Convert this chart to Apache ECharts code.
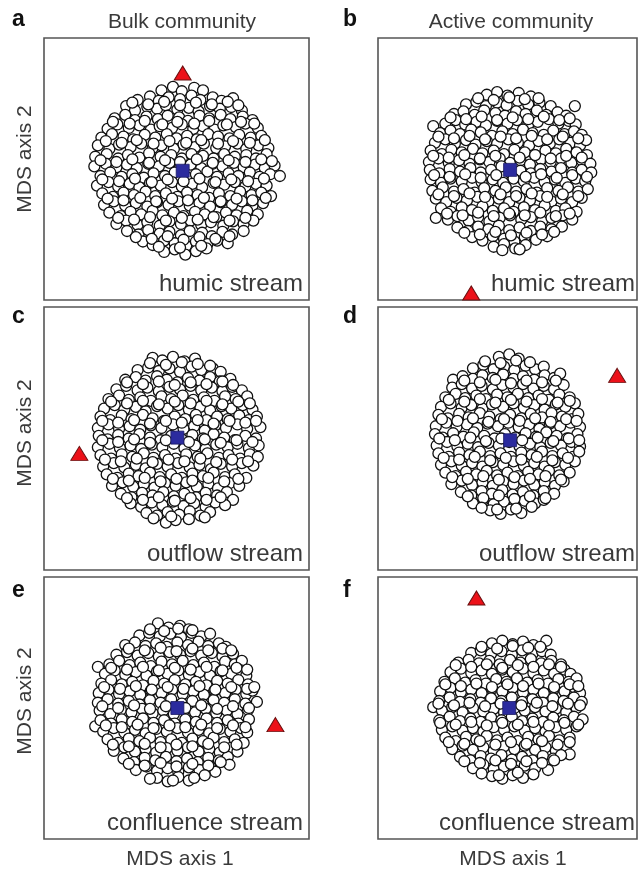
<!DOCTYPE html>
<html>
<head>
<meta charset="utf-8">
<script src="https://cdn.jsdelivr.net/npm/echarts@6/dist/echarts.min.js"></script>
<style>
  html, body { margin: 0; padding: 0; background: #fff; }
  #chart { width: 638px; height: 870px; }
</style>
</head>
<body>
<div id="chart"></div>
<script>
// Null-model community scores (MDS axis 1, axis 2), one array per panel
const bulkHumic = [
  [-17,90],[-4,94],[6,89],[20,93],[30,90],
  [-44,79],[-30,83],[-20,78],[-9,82],[4,80],[17,84],[27,79],[41,82],[51,78],[64,81],
  [-57,72],[-47,67],[-33,71],[-22,69],[-12,73],[1,68],[14,70],[25,66],[38,72],[49,69],[62,71],[74,67],
  [-70,58],[-58,62],[-47,56],[-34,60],[-21,57],[-10,61],[3,59],[13,55],[26,61],[37,58],[50,62],[61,57],[75,60],[86,56],
  [-78,46],[-67,51],[-54,47],[-42,50],[-29,45],[-19,49],[-5,47],[6,51],[19,46],[30,49],[43,45],[53,50],[67,48],[78,52],[92,47],
  [-85,36],[-73,40],[-60,37],[-49,34],[-36,39],[-24,36],[-11,40],[0,35],[12,38],[23,34],[36,40],[47,37],[60,35],[71,39],[84,36],[96,38],
  [-89,27],[-76,23],[-65,28],[-52,25],[-40,29],[-27,24],[-17,27],[-3,23],[8,28],[21,25],[31,29],[45,24],[55,26],[69,29],[79,23],[93,27],[104,24],
  [-92,14],[-79,17],[-66,12],[-55,16],[-42,13],[-31,18],[-18,14],[-6,16],[6,12],[17,17],[30,15],[42,12],[54,17],[66,14],[79,16],[90,12],[102,17],
  [-93,3],[-80,6],[-68,2],[-56,5],[-45,1],[-32,6],[-20,3],[-8,7],[4,2],[16,5],[28,1],[41,6],[52,3],[65,7],[76,2],[89,5],[100,1],[111,4],
  [-86,-8],[-75,-4],[-62,-9],[-50,-6],[-37,-10],[-26,-5],[-13,-8],[-2,-4],[11,-9],[22,-6],[35,-3],[46,-9],[59,-5],[70,-8],[83,-4],[94,-9],[106,-6],[117,-8],
  [-90,-19],[-77,-15],[-66,-20],[-53,-17],[-42,-21],[-30,-16],[-18,-19],[-5,-15],[6,-20],[18,-17],[29,-21],[42,-16],[54,-18],[66,-15],[78,-20],[90,-17],[102,-19],
  [-84,-28],[-72,-32],[-60,-27],[-48,-30],[-35,-26],[-24,-31],[-12,-28],[1,-32],[12,-27],[24,-30],[37,-33],[48,-28],[61,-31],[72,-26],[85,-30],[96,-27],[107,-31],
  [-82,-41],[-71,-37],[-58,-42],[-46,-39],[-33,-43],[-22,-38],[-9,-41],[2,-37],[15,-42],[26,-39],[38,-43],[50,-38],[63,-41],[74,-37],[86,-42],[98,-39],
  [-76,-50],[-63,-54],[-52,-49],[-40,-52],[-27,-48],[-16,-53],[-3,-50],[8,-54],[21,-49],[32,-52],[45,-55],[56,-50],[68,-53],[80,-48],[92,-52],
  [-68,-63],[-57,-59],[-44,-64],[-33,-61],[-19,-65],[-8,-60],[5,-63],[16,-59],[28,-64],[39,-61],[53,-65],[64,-60],[76,-63],[87,-59],
  [-56,-71],[-43,-75],[-32,-70],[-19,-74],[-8,-72],[5,-76],[15,-71],[29,-73],[40,-77],[52,-72],[63,-75],[76,-71],
  [-38,-83],[-27,-87],[-14,-82],[-2,-85],[11,-88],[22,-83],[35,-86],[46,-82],[58,-85],
  [-14,-95],[-2,-92],[10,-98],[22,-94],[34,-91],
  [-50,76],[-32,74],[-14,77],[4,73],[22,76],[40,74],[58,77],[70,73],
  [-72,54],[-53,52],[-36,55],[-16,51],[1,54],[20,52],[37,55],[57,51],[73,54],[88,52],
  [-80,32],[-62,30],[-45,33],[-26,29],[-8,32],[11,30],[28,33],[47,29],[64,32],[83,30],[100,33],
  [-86,10],[-68,8],[-50,11],[-31,7],[-13,10],[4,8],[23,11],[41,7],[59,10],[78,8],[96,11],[108,9],
  [-84,-12],[-65,-14],[-47,-11],[-28,-15],[-10,-12],[8,-14],[26,-11],[44,-15],[62,-12],[81,-14],[99,-11],
  [-78,-34],[-60,-36],[-41,-33],[-23,-37],[-5,-34],[13,-36],[31,-33],[50,-37],[68,-34],[86,-36],[101,-33],
  [-66,-56],[-48,-58],[-30,-55],[-12,-59],[6,-56],[24,-58],[42,-55],[60,-59],[78,-56],
  [-46,-78],[-28,-80],[-10,-77],[8,-81],[26,-78],[44,-80],[60,-77],
  [-20,-89],[4,-90],[28,-88]
];
const activeHumic = [
  [-24,85],[-12,88],[0,84],[13,87],[27,83],
  [-48,74],[-36,77],[-25,72],[-12,76],[-1,73],[12,78],[24,74],[37,76],[50,72],[78,72],
  [-62,63],[-51,66],[-38,62],[-27,67],[-14,64],[-3,61],[10,66],[21,63],[34,67],[45,62],[58,65],[68,61],
  [-72,52],[-60,56],[-49,51],[-36,54],[-25,50],[-12,55],[0,52],[11,56],[24,51],[35,54],[48,57],[59,52],[71,55],[79,51],
  [-86,49],[-78,41],[-66,44],[-55,40],[-42,45],[-31,42],[-18,38],[-6,43],[6,40],[18,45],[29,41],[42,39],[53,44],[66,40],[77,43],[86,39],
  [-84,30],[-72,34],[-61,29],[-48,33],[-37,28],[-24,32],[-12,29],[1,34],[12,30],[25,27],[36,32],[49,29],[60,34],[73,30],[84,27],[91,33],
  [-89,21],[-76,17],[-65,22],[-53,19],[-40,23],[-29,18],[-16,21],[-4,17],[8,22],[20,19],[32,16],[44,21],[56,18],[68,23],[80,19],[92,16],
  [-91,8],[-80,12],[-68,7],[-56,10],[-44,6],[-32,11],[-21,8],[-9,12],[3,7],[15,10],[26,5],[39,11],[50,8],[62,12],[74,7],[86,10],[96,6],
  [-90,-1],[-79,-5],[-67,0],[-55,-3],[-43,1],[-31,-4],[-19,-1],[-7,3],[4,-5],[15,-2],[27,-5],[38,0],[51,-3],[62,1],[75,-4],[86,-1],[97,-4],
  [-89,-12],[-77,-16],[-66,-11],[-53,-14],[-41,-10],[-30,-15],[-17,-12],[-5,-16],[7,-11],[19,-14],[31,-10],[43,-15],[55,-12],[67,-16],[79,-11],[90,-14],
  [-87,-25],[-75,-21],[-62,-26],[-51,-23],[-38,-27],[-27,-22],[-14,-25],[-2,-21],[10,-26],[22,-23],[34,-27],[46,-22],[59,-25],[70,-21],[82,-26],[93,-23],
  [-83,-34],[-71,-38],[-59,-33],[-47,-36],[-35,-32],[-22,-37],[-10,-34],[2,-38],[14,-33],[26,-36],[38,-31],[51,-37],[62,-34],[75,-38],[86,-33],
  [-77,-45],[-66,-49],[-53,-44],[-41,-47],[-29,-43],[-17,-48],[-4,-45],[7,-49],[19,-44],[32,-47],[43,-42],[56,-48],[67,-45],[80,-49],
  [-83,-56],[-69,-58],[-58,-54],[-45,-59],[-34,-55],[-21,-60],[-9,-56],[3,-53],[16,-58],[27,-55],[40,-60],[51,-56],[64,-53],[75,-58],
  [-58,-67],[-46,-71],[-34,-66],[-22,-69],[-10,-65],[2,-70],[14,-67],[27,-71],[38,-66],[51,-69],[63,-66],
  [-41,-78],[-29,-82],[-17,-77],[-4,-80],[8,-83],[20,-78],[33,-81],[46,-77],
  [-16,-89],[-4,-86],[9,-91],[21,-87],
  [-34,81],[-16,79],[2,82],[20,80],[36,81],
  [-66,59],[-48,57],[-30,60],[-12,56],[6,59],[24,57],[42,60],[60,56],[72,58],
  [-80,37],[-62,35],[-44,38],[-26,34],[-8,37],[10,35],[28,38],[46,34],[64,37],[82,35],
  [-86,15],[-68,13],[-50,16],[-32,12],[-14,15],[14,13],[32,16],[50,12],[68,15],[86,13],
  [-85,-7],[-67,-9],[-49,-6],[-31,-10],[-13,-7],[21,-9],[39,-6],[57,-10],[75,-7],[92,-9],
  [-80,-29],[-62,-31],[-44,-28],[-26,-32],[-8,-29],[10,-31],[28,-28],[46,-32],[64,-29],[82,-31],
  [-70,-51],[-52,-53],[-34,-50],[-16,-54],[2,-51],[20,-53],[38,-50],[56,-54],[72,-51],
  [-50,-73],[-32,-75],[-14,-72],[4,-76],[22,-73],[40,-75],[54,-72],
  [-6,-93],[14,-92]
];
const bulkOutflow = [
  [-27,92],[-16,89],[-4,93],[9,88],[21,91],
  [-44,78],[-32,81],[-20,77],[-8,80],[4,76],[17,82],[28,78],[41,80],[50,76],
  [-58,67],[-46,70],[-35,66],[-22,71],[-11,67],[1,64],[13,69],[26,66],[38,70],[49,65],[61,68],
  [-68,56],[-57,60],[-44,55],[-33,58],[-20,54],[-8,59],[4,56],[16,60],[28,55],[40,58],[52,54],[63,59],[74,55],
  [-77,45],[-65,49],[-54,44],[-41,47],[-29,43],[-17,48],[-6,45],[7,49],[19,44],[31,47],[43,43],[55,48],[67,45],[80,48],
  [-82,34],[-70,38],[-59,33],[-46,36],[-35,31],[-22,37],[-10,34],[2,38],[14,33],[27,36],[38,32],[51,37],[62,34],[75,38],[86,33],
  [-86,25],[-75,21],[-62,26],[-51,22],[-38,27],[-27,23],[-14,20],[-2,25],[10,22],[22,27],[34,21],[46,25],[58,22],[71,26],[82,21],[91,25],
  [-89,12],[-77,16],[-65,11],[-53,14],[-41,10],[-29,15],[-17,12],[-4,16],[8,11],[20,14],[32,9],[44,15],[56,12],[69,16],[80,11],[95,13],
  [-88,3],[-78,-1],[-66,4],[-54,0],[-42,5],[-30,1],[-18,-2],[-6,3],[6,-1],[18,4],[30,0],[42,5],[54,1],[66,-2],[78,3],[90,0],
  [-89,-10],[-76,-6],[-64,-11],[-52,-8],[-40,-12],[-28,-7],[-16,-10],[-3,-6],[9,-11],[21,-8],[33,-12],[45,-7],[58,-10],[69,-6],[82,-11],[93,-8],
  [-86,-19],[-74,-23],[-62,-18],[-50,-21],[-37,-17],[-26,-22],[-13,-19],[-1,-23],[11,-18],[24,-21],[35,-17],[48,-22],[59,-19],[72,-23],[83,-18],[92,-21],
  [-83,-32],[-71,-28],[-59,-33],[-46,-30],[-35,-34],[-22,-29],[-10,-32],[2,-28],[15,-33],[26,-30],[39,-35],[50,-29],[63,-32],[74,-28],[87,-31],
  [-79,-41],[-67,-45],[-54,-40],[-43,-43],[-30,-39],[-19,-44],[-6,-41],[6,-45],[18,-40],[30,-43],[42,-39],[55,-44],[66,-41],[79,-45],
  [-73,-54],[-61,-50],[-49,-55],[-37,-52],[-25,-56],[-13,-51],[-1,-54],[11,-50],[23,-55],[36,-52],[47,-57],[60,-51],[71,-54],
  [-63,-63],[-51,-67],[-39,-62],[-27,-65],[-15,-61],[-3,-66],[9,-63],[22,-67],[33,-62],[46,-65],[57,-61],[64,-70],
  [-52,-74],[-40,-78],[-28,-73],[-16,-76],[-4,-72],[8,-77],[20,-74],[33,-78],[44,-73],[55,-76],
  [-34,-85],[-22,-88],[-10,-84],[3,-87],[15,-83],[27,-88],[38,-84],
  [-12,-96],[-1,-93],
  [-30,86],[-12,84],[6,87],[24,85],[38,83],
  [-56,64],[-38,62],[-20,65],[-2,61],[16,64],[34,62],[52,65],[64,61],
  [-74,42],[-56,40],[-38,43],[-20,39],[-2,42],[16,40],[34,43],[52,39],[70,42],[83,40],
  [-84,20],[-66,18],[-48,21],[-30,17],[-12,20],[6,18],[24,21],[42,17],[60,20],[78,18],[90,20],
  [-84,-2],[-66,-4],[-48,-1],[-30,-5],[-12,-2],[14,-4],[32,-1],[50,-5],[68,-2],[86,-4],
  [-81,-24],[-63,-26],[-45,-23],[-27,-27],[-9,-24],[9,-26],[27,-23],[45,-27],[63,-24],[81,-26],
  [-72,-46],[-54,-48],[-36,-45],[-18,-49],[0,-46],[18,-48],[36,-45],[54,-49],[70,-46],
  [-56,-68],[-38,-70],[-20,-67],[-2,-71],[16,-68],[34,-70],[50,-67],
  [-26,-91],[-6,-89],[14,-92],[32,-90]
];
const activeOutflow = [
  [-10,93],[2,96],[13,91],
  [-40,80],[-28,84],[-16,79],[-4,82],[8,78],[21,83],[32,79],[42,82],
  [-63,67],[-52,71],[-40,68],[-29,72],[-17,69],[-5,73],[7,68],[18,71],[31,67],[43,72],[54,69],[61,74],
  [-64,58],[-53,62],[-41,57],[-30,60],[-17,56],[-6,61],[7,58],[18,62],[30,57],[42,60],[54,56],[65,61],
  [-72,47],[-60,51],[-49,46],[-36,49],[-25,45],[-12,50],[0,47],[12,51],[24,46],[36,49],[48,44],[60,50],[72,47],
  [-77,36],[-66,40],[-53,35],[-42,38],[-29,34],[-18,39],[-5,36],[7,40],[19,35],[31,38],[43,33],[56,39],[67,36],[78,40],
  [-80,27],[-69,23],[-56,28],[-45,24],[-32,29],[-21,25],[-8,22],[3,27],[16,23],[27,28],[40,24],[51,29],[63,25],[75,22],[82,28],
  [-83,14],[-71,18],[-59,13],[-47,16],[-35,12],[-23,17],[-11,14],[1,18],[13,13],[25,16],[37,11],[49,17],[61,14],[73,18],[84,13],
  [-84,5],[-75,1],[-63,6],[-51,2],[-39,7],[-27,3],[-15,0],[-3,5],[9,1],[21,6],[33,2],[45,7],[57,3],[69,0],[81,5],
  [-82,-8],[-70,-4],[-58,-9],[-46,-6],[-34,-10],[-22,-5],[-10,-8],[2,-4],[14,-9],[26,-6],[38,-10],[50,-5],[62,-8],[74,-4],[84,-9],
  [-80,-17],[-68,-21],[-56,-16],[-44,-19],[-32,-15],[-20,-20],[-8,-17],[4,-21],[16,-16],[28,-19],[40,-15],[52,-20],[64,-17],[76,-21],[83,-15],
  [-77,-30],[-65,-26],[-53,-31],[-41,-28],[-29,-32],[-17,-27],[-5,-30],[7,-26],[19,-31],[31,-28],[43,-32],[55,-27],[67,-30],[78,-26],
  [-72,-39],[-60,-43],[-48,-38],[-36,-41],[-24,-37],[-12,-42],[0,-39],[12,-43],[24,-38],[36,-41],[48,-37],[60,-42],[72,-39],
  [-65,-52],[-53,-48],[-41,-53],[-29,-50],[-17,-54],[-5,-49],[7,-52],[19,-48],[31,-53],[43,-50],[55,-54],[65,-49],
  [-54,-61],[-42,-65],[-30,-60],[-18,-63],[-6,-59],[6,-64],[18,-61],[30,-65],[42,-60],[54,-63],
  [-40,-74],[-28,-70],[-16,-75],[-4,-72],[8,-76],[20,-71],[32,-74],[42,-70],
  [-20,-82],[-8,-86],[4,-81],[16,-85],
  [-26,88],[-8,86],[10,89],[26,87],
  [-50,66],[-32,64],[-14,67],[4,63],[22,66],[40,64],[56,66],
  [-68,44],[-50,42],[-32,45],[-14,41],[4,44],[22,42],[40,45],[58,41],[72,43],
  [-76,22],[-58,20],[-40,23],[-22,19],[-4,22],[14,20],[32,23],[50,19],[68,22],[80,20],
  [-79,0],[-61,-2],[-43,1],[-25,-3],[-7,0],[17,-2],[35,1],[53,-3],[71,0],[83,-2],
  [-74,-22],[-56,-24],[-38,-21],[-20,-25],[-2,-22],[16,-24],[34,-21],[52,-25],[70,-22],
  [-64,-44],[-46,-46],[-28,-43],[-10,-47],[8,-44],[26,-46],[44,-43],[62,-47],
  [-46,-66],[-28,-68],[-10,-65],[8,-69],[26,-66],[44,-68],
  [-30,-79],[-12,-81],[10,-80],[28,-78]
];
const bulkConfluence = [
  [-21,97],[-9,92],[4,94],[14,90],
  [-42,83],[-31,86],[-19,82],[-7,85],[5,81],[17,86],[28,82],[38,85],
  [-58,72],[-47,75],[-35,71],[-23,74],[-11,70],[1,75],[13,72],[25,76],[36,71],[48,74],[56,70],
  [-68,61],[-56,64],[-44,60],[-32,63],[-20,59],[-8,64],[4,61],[16,65],[28,60],[40,63],[52,59],[64,62],
  [-89,47],[-76,50],[-65,54],[-53,49],[-41,52],[-29,48],[-17,53],[-5,50],[7,54],[19,49],[31,52],[43,47],[55,53],[66,50],[74,54],
  [-81,39],[-70,43],[-58,38],[-46,41],[-34,37],[-22,42],[-10,39],[2,43],[14,38],[26,41],[38,37],[50,42],[62,39],[73,43],[79,37],
  [-85,28],[-74,32],[-62,27],[-50,30],[-38,26],[-26,31],[-14,28],[-2,32],[10,27],[22,30],[34,26],[46,31],[58,28],[70,32],[81,27],
  [-88,17],[-77,21],[-65,16],[-53,19],[-41,15],[-29,20],[-17,17],[-5,21],[7,16],[19,19],[31,15],[43,20],[55,17],[67,21],[79,16],[86,20],
  [-89,6],[-78,10],[-66,5],[-54,8],[-42,4],[-30,9],[-18,6],[-6,10],[6,5],[18,8],[30,4],[42,9],[54,6],[66,10],[78,5],[91,7],
  [-87,-3],[-75,-7],[-63,-2],[-51,-5],[-39,-1],[-27,-6],[-15,-3],[-3,-7],[9,-2],[21,-5],[33,-1],[45,-6],[57,-3],[69,-7],[81,-2],
  [-92,-21],[-86,-14],[-74,-18],[-62,-13],[-50,-16],[-38,-12],[-26,-17],[-14,-14],[-2,-18],[10,-13],[22,-16],[34,-12],[46,-17],[58,-14],[70,-18],[82,-13],
  [-83,-27],[-71,-23],[-59,-28],[-47,-25],[-35,-29],[-23,-24],[-11,-27],[1,-23],[13,-28],[25,-25],[37,-29],[49,-24],[61,-27],[73,-23],[80,-28],
  [-78,-36],[-66,-40],[-54,-35],[-42,-38],[-30,-34],[-18,-39],[-6,-36],[6,-40],[18,-35],[30,-38],[42,-34],[54,-39],[66,-36],[76,-40],
  [-71,-49],[-59,-45],[-47,-50],[-35,-47],[-23,-51],[-11,-46],[1,-49],[13,-45],[25,-50],[37,-47],[49,-51],[61,-46],[69,-50],
  [-60,-58],[-48,-62],[-36,-57],[-24,-60],[-12,-56],[0,-61],[12,-58],[24,-62],[36,-57],[48,-60],[58,-56],[60,-65],
  [-46,-71],[-34,-67],[-22,-72],[-10,-69],[2,-73],[14,-68],[26,-71],[38,-67],[44,-73],
  [-22,-80],[-10,-84],[2,-79],[14,-83],
  [-30,90],[-14,88],[2,91],[18,89],
  [-54,68],[-36,66],[-18,69],[0,65],[18,68],[36,66],[52,68],[62,66],
  [-74,46],[-56,44],[-38,47],[-20,43],[-2,46],[16,44],[34,47],[52,43],[68,46],[80,44],
  [-82,24],[-64,22],[-46,25],[-28,21],[-10,24],[8,22],[26,25],[44,21],[62,24],[80,22],[88,24],
  [-84,2],[-66,0],[-48,3],[-30,-1],[-12,2],[10,0],[28,3],[46,-1],[64,2],[82,0],
  [-80,-20],[-62,-22],[-44,-19],[-26,-23],[-8,-20],[10,-22],[28,-19],[46,-23],[64,-20],[78,-22],
  [-72,-42],[-54,-44],[-36,-41],[-18,-45],[0,-42],[18,-44],[36,-41],[54,-45],[68,-42],
  [-54,-64],[-36,-66],[-18,-63],[0,-67],[18,-64],[36,-66],[50,-62],
  [-30,-81],[-4,-83],[20,-80],[32,-77]
];
const activeConfluence = [
  [-18,74],[-6,77],[6,73],[18,76],[30,72],[45,77],
  [-42,63],[-31,66],[-19,62],[-7,65],[5,61],[17,66],[29,62],[40,65],[50,61],
  [-57,52],[-45,55],[-33,51],[-21,54],[-9,50],[3,55],[15,52],[27,56],[39,51],[51,54],[62,50],
  [-66,41],[-54,45],[-42,40],[-30,43],[-18,39],[-6,44],[6,41],[18,45],[30,40],[42,43],[54,39],[66,44],[73,39],
  [-73,30],[-61,34],[-49,29],[-37,32],[-25,28],[-13,33],[-1,30],[11,34],[23,29],[35,32],[47,28],[59,33],[71,30],[80,34],
  [-78,19],[-66,23],[-54,18],[-42,21],[-30,17],[-18,22],[-6,19],[6,23],[18,18],[30,21],[42,17],[54,22],[66,19],[78,23],[84,17],
  [-79,8],[-67,12],[-55,7],[-43,10],[-31,6],[-19,11],[-7,8],[5,12],[17,7],[29,10],[41,6],[53,11],[65,8],[77,12],[86,7],
  [-86,1],[-76,-3],[-64,1],[-52,-5],[-40,0],[-28,-4],[-16,-1],[-4,-5],[8,0],[20,-3],[32,1],[44,-4],[56,-1],[68,-5],[80,0],
  [-79,-14],[-67,-10],[-55,-15],[-43,-12],[-31,-16],[-19,-11],[-7,-14],[5,-10],[17,-15],[29,-12],[41,-16],[53,-11],[65,-14],[77,-10],[87,-13],
  [-76,-25],[-64,-21],[-52,-26],[-40,-23],[-28,-27],[-16,-22],[-4,-25],[8,-21],[20,-26],[32,-23],[44,-27],[56,-22],[68,-25],[80,-21],
  [-72,-34],[-60,-38],[-48,-33],[-36,-36],[-24,-32],[-12,-37],[0,-34],[12,-38],[24,-33],[36,-36],[48,-32],[60,-37],[72,-34],
  [-64,-47],[-52,-43],[-40,-48],[-28,-45],[-16,-49],[-4,-44],[8,-47],[20,-43],[32,-48],[44,-45],[56,-49],[68,-44],[72,-53],
  [-55,-56],[-43,-60],[-31,-55],[-19,-58],[-7,-54],[5,-59],[17,-56],[29,-60],[41,-55],[53,-58],[62,-54],
  [-40,-69],[-28,-65],[-16,-70],[-4,-67],[8,-71],[20,-66],[32,-69],[44,-65],[47,-71],
  [-18,-78],[-6,-81],[6,-77],[18,-80],
  [-30,70],[-12,68],[6,71],[24,69],[38,70],
  [-60,49],[-42,47],[-24,50],[-6,46],[12,49],[30,47],[48,50],[62,47],
  [-72,27],[-54,25],[-36,28],[-18,24],[0,27],[18,25],[36,28],[54,24],[72,27],[82,25],
  [-80,5],[-62,3],[-44,6],[-26,2],[-8,5],[16,3],[34,6],[52,2],[70,5],[84,3],
  [-78,-17],[-60,-19],[-42,-16],[-24,-20],[-6,-17],[12,-19],[30,-16],[48,-20],[66,-17],[82,-19],
  [-68,-39],[-50,-41],[-32,-38],[-14,-42],[4,-39],[22,-41],[40,-38],[58,-42],[72,-39],
  [-50,-61],[-32,-63],[-14,-60],[4,-64],[22,-61],[40,-63],[54,-60],
  [-30,-75],[-10,-77],[12,-74],[30,-76]
];

// Centroid of the null communities (blue square) and observed community (red triangle)
const centroids = [[7,-2],[3,-1],[1,1],[3,-2],[1,0],[2,0]];
const observed = [[7,110],[-42,-142],[-110,-17],[127,72],[112,-19],[-36,126]];

const columnTitles = ['Bulk community', 'Active community'];
const panelLetters = ['a', 'b', 'c', 'd', 'e', 'f'];
const streamLabels = ['humic stream', 'humic stream', 'outflow stream', 'outflow stream', 'confluence stream', 'confluence stream'];
const xAxisName = 'MDS axis 1';
const yAxisName = 'MDS axis 2';

const nullSets = [bulkHumic, activeHumic, bulkOutflow, activeOutflow, bulkConfluence, activeConfluence];

// Panel boxes in page pixels: left, top, width, height
const boxes = [
  [44, 38, 265, 262], [378, 38, 259, 262],
  [44, 307, 265, 263], [378, 307, 259, 263],
  [44, 577, 265, 262], [378, 577, 259, 262]
];

const textColor = '#3a3a3a';
const labelFont = 'Liberation Sans, Arial, sans-serif';

const grid = [], xAxis = [], yAxis = [], series = [], graphic = [];

boxes.forEach((b, i) => {
  grid.push({ left: b[0], top: b[1], width: b[2], height: b[3], show: true,
    borderColor: '#555', borderWidth: 1.6, backgroundColor: '#fff' });
  const axisBase = { type: 'value', min: -150, max: 150, gridIndex: i,
    axisLine: { show: false }, axisTick: { show: false }, axisLabel: { show: false }, splitLine: { show: false } };
  xAxis.push(Object.assign({}, axisBase));
  yAxis.push(Object.assign({}, axisBase));

  series.push({
    type: 'scatter', xAxisIndex: i, yAxisIndex: i, data: nullSets[i],
    symbol: 'circle', symbolSize: 11, clip: false, z: 2,
    itemStyle: { color: '#fff', borderColor: '#111', borderWidth: 1.3, opacity: 1 },
    emphasis: { disabled: true }, silent: true
  });
  series.push({
    type: 'scatter', xAxisIndex: i, yAxisIndex: i, data: [centroids[i]],
    symbol: 'rect', symbolSize: 13, clip: false, z: 3,
    itemStyle: { color: '#2b2b9e', borderColor: '#1c1c66', borderWidth: 0.8, opacity: 1 },
    emphasis: { disabled: true }, silent: true
  });
  series.push({
    type: 'scatter', xAxisIndex: i, yAxisIndex: i, data: [observed[i]],
    symbol: 'triangle', symbolSize: [17, 14], clip: false, z: 4,
    itemStyle: { color: '#ec1119', borderColor: '#6a1010', borderWidth: 1, opacity: 1 },
    emphasis: { disabled: true }, silent: true
  });

  // stream label, bottom-right inside the box
  const right = i % 2 === 0 ? b[0] + b[2] - 6 : b[0] + b[2] - 2;
  graphic.push({ type: 'text', z: 10, style: {
    x: right, y: b[1] + b[3] - 16, text: streamLabels[i], align: 'right', verticalAlign: 'middle',
    fill: textColor, font: '24px ' + labelFont } });

  // panel letter
  graphic.push({ type: 'text', z: 10, style: {
    x: i % 2 === 0 ? 12 : 343, y: [20, 20, 317, 317, 591, 591][i], text: panelLetters[i],
    align: 'left', verticalAlign: 'middle', fill: '#111', font: 'bold 23px ' + labelFont } });
});

// column titles
graphic.push({ type: 'text', style: { x: 182, y: 22, text: columnTitles[0], align: 'center', verticalAlign: 'middle', fill: textColor, font: '21px ' + labelFont } });
graphic.push({ type: 'text', style: { x: 511, y: 22, text: columnTitles[1], align: 'center', verticalAlign: 'middle', fill: textColor, font: '21px ' + labelFont } });

// y axis names (rotated)
[159, 433, 701].forEach(cy => {
  graphic.push({ type: 'text', x: 25, y: cy, rotation: Math.PI / 2,
    style: { x: 0, y: 0, text: yAxisName, align: 'center', verticalAlign: 'middle', fill: textColor, font: '21px ' + labelFont } });
});
// x axis names
[180, 513].forEach(cx => {
  graphic.push({ type: 'text', style: { x: cx, y: 859, text: xAxisName, align: 'center', verticalAlign: 'middle', fill: textColor, font: '21px ' + labelFont } });
});

const chart = echarts.init(document.getElementById('chart'), null, { renderer: 'canvas' });
chart.setOption({
  animation: false,
  backgroundColor: '#fff',
  grid, xAxis, yAxis, series, graphic
});
</script>
</body>
</html>
